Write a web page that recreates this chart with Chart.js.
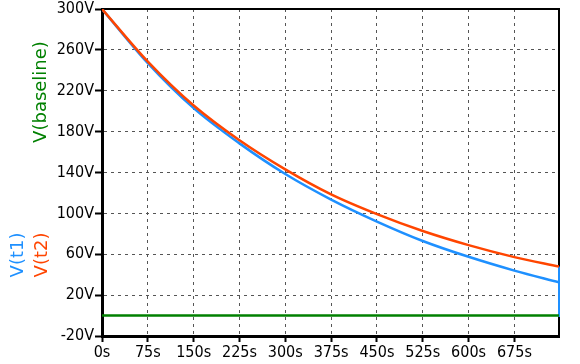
<!DOCTYPE html>
<html>
<head>
<meta charset="utf-8">
<script src="https://cdn.jsdelivr.net/npm/chart.js@4.4.0/dist/chart.umd.min.js"></script>
<style>
  html, body { margin: 0; padding: 0; background: #fff; }
  #wrap { width: 580px; height: 364px; }
</style>
</head>
<body>
<div id="wrap"><canvas id="myChart" width="580" height="364"></canvas></div>
<script>
// time points (s) and traces (V)
const times    = [0, 75, 150, 225, 300, 375, 450, 525, 600, 675, 748];
const vT1      = [300, 247, 203, 168.5, 138.5, 113.5, 92, 73, 57.5, 44, 32.5];
const vT2      = [300, 248.5, 205.5, 171.5, 143, 118.5, 99.2, 82.7, 68.9, 57.2, 48];
const vBase    = [0, 0, 0, 0, 0, 0, 0, 0, 0, 0, 0];
// blue step at the right edge of the plot
const t1EdgeX  = [748, 748];
const t1EdgeY  = [48, -1.5];
// axis ticks
const xTicks   = [0, 75, 150, 225, 300, 375, 450, 525, 600, 675];
const yTicks   = [-20, 20, 60, 100, 140, 180, 220, 260, 300];

const BLUE = '#1e90ff';
const RED = '#ff4500';
const GREEN = '#008000';

const pts = (xs, ys) => xs.map((x, i) => ({ x: x, y: ys[i] }));

const tickFont = { family: "'DejaVu Sans Condensed', 'Liberation Sans', sans-serif", size: 16, lineHeight: 1 };

// black frame on top and right side
const frame = {
    id: 'frame',
    beforeDatasetsDraw(chart) {
        const { ctx, chartArea: a } = chart;
        ctx.save();
        ctx.strokeStyle = '#000';
        ctx.lineWidth = 2;
        ctx.beginPath();
        ctx.moveTo(a.left, a.top);
        ctx.lineTo(a.right, a.top);
        ctx.lineTo(a.right, a.bottom);
        ctx.stroke();
        ctx.restore();
    }
};

// coloured trace names on the left, like the y axis title
const traceNames = {
    id: 'traceNames',
    afterDraw(chart) {
        const ctx = chart.ctx;
        const names = [
            ['V(baseline)', GREEN, 41, 92],
            ['V(t1)', BLUE, 18, 255],
            ['V(t2)', RED, 42, 255]
        ];
        ctx.save();
        ctx.font = "18px 'DejaVu Sans'";
        ctx.textAlign = 'center';
        ctx.textBaseline = 'middle';
        names.forEach(([txt, col, x, y]) => {
            ctx.save();
            ctx.translate(x, y);
            ctx.rotate(-Math.PI / 2);
            ctx.fillStyle = col;
            ctx.fillText(txt, 0, 0);
            ctx.restore();
        });
        ctx.restore();
    }
};

const ctx = document.getElementById('myChart');
const myChart = new Chart(ctx, {
    type: 'line',
    data: {
        datasets: [{
            label: 'V(baseline)',
            data: pts(times, vBase),
            borderColor: GREEN,
            borderWidth: 2.5
        },
        {
            label: 'V(t2)',
            data: pts(times, vT2),
            borderColor: RED,
            borderWidth: 2.5,
            cubicInterpolationMode: 'monotone'
        },
        {
            label: 'V(t1)',
            data: pts(times, vT1),
            borderColor: BLUE,
            borderWidth: 2.5,
            cubicInterpolationMode: 'monotone'
        },
        {
            label: 'V(t1) edge',
            data: pts(t1EdgeX, t1EdgeY),
            borderColor: BLUE,
            borderWidth: 2,
            clip: 4
        }]
    },
    options: {
        responsive: false,
        animation: false,
        layout: { padding: { left: 0, right: 21, top: 9, bottom: 0 } },
        elements: { point: { radius: 0 } },
        plugins: { legend: { display: false }, tooltip: { enabled: false } },
        scales: {
            x: {
                type: 'linear',
                min: 0,
                max: 748,
                afterFit: s => { s.height = 28; },
                afterBuildTicks: s => { s.ticks = xTicks.map(v => ({ value: v })); },
                ticks: {
                    autoSkip: false,
                    color: '#000',
                    font: tickFont,
                    padding: 3,
                    maxRotation: 0,
                    callback: v => v + 's'
                },
                grid: {
                    color: '#555',
                    lineWidth: 1,
                    tickLength: 6,
                    tickColor: '#000',
                    tickWidth: 2,
                    tickBorderDash: []
                },
                border: { color: '#000', width: 3, dash: [3, 4] }
            },
            y: {
                min: -20,
                max: 300,
                afterFit: s => { s.width = 102; },
                afterBuildTicks: s => { s.ticks = yTicks.map(v => ({ value: v })); },
                ticks: {
                    autoSkip: false,
                    color: '#000',
                    font: tickFont,
                    padding: 1,
                    callback: v => v + 'V'
                },
                grid: {
                    color: '#555',
                    lineWidth: 1,
                    tickLength: 7,
                    tickColor: '#000',
                    tickWidth: 2,
                    tickBorderDash: []
                },
                border: { color: '#000', width: 3, dash: [3, 4] }
            }
        }
    },
    plugins: [frame, traceNames]
});
</script>
</body>
</html>
